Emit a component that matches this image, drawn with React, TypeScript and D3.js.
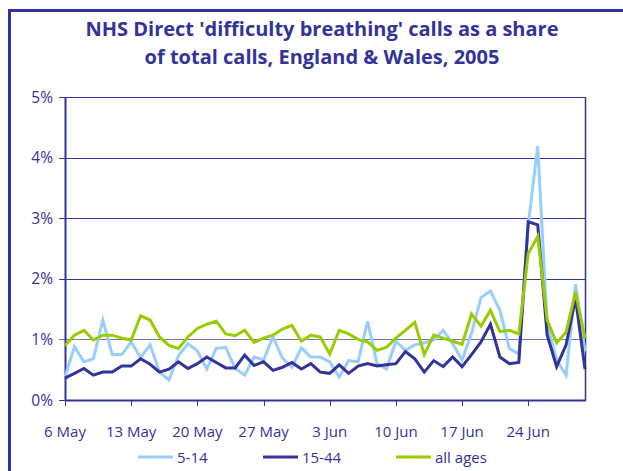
import React, { useEffect, useRef } from 'react';
import * as d3 from 'd3';

// daily values, 6 May - 30 Jun 2005 (% of total calls)
const firstDay = new Date(2005, 4, 6);
const lastDay = new Date(2005, 5, 30);

const age5to14 = [
  0.38, 0.88, 0.63, 0.68, 1.32, 0.75, 0.75, 0.96, 0.70, 0.91, 0.46, 0.33, 0.73, 0.93,
  0.81, 0.51, 0.85, 0.87, 0.52, 0.41, 0.71, 0.66, 1.04, 0.69, 0.54, 0.86, 0.71, 0.71,
  0.63, 0.38, 0.65, 0.63, 1.30, 0.60, 0.51, 0.97, 0.82, 0.91, 0.94, 0.99, 1.15, 0.93,
  0.66, 1.10, 1.69, 1.80, 1.48, 0.85, 0.76, 2.90, 4.19, 1.25, 0.66, 0.41, 1.91, 0.80,
];

const age15to44 = [
  0.36, 0.44, 0.52, 0.41, 0.46, 0.46, 0.56, 0.56, 0.68, 0.59, 0.46, 0.51, 0.63, 0.52,
  0.60, 0.71, 0.62, 0.53, 0.53, 0.74, 0.57, 0.63, 0.49, 0.54, 0.62, 0.51, 0.60, 0.46,
  0.44, 0.58, 0.44, 0.56, 0.60, 0.56, 0.58, 0.60, 0.80, 0.68, 0.46, 0.65, 0.55, 0.71,
  0.55, 0.75, 0.96, 1.25, 0.71, 0.60, 0.62, 2.94, 2.89, 1.07, 0.55, 0.91, 1.68, 0.51,
];

const allAges = [
  0.90, 1.07, 1.15, 0.99, 1.07, 1.07, 1.02, 0.99, 1.39, 1.32, 1.04, 0.90, 0.85, 1.04,
  1.18, 1.25, 1.30, 1.09, 1.06, 1.15, 0.95, 1.02, 1.07, 1.17, 1.23, 0.97, 1.07, 1.04,
  0.76, 1.15, 1.09, 1.00, 0.96, 0.82, 0.87, 1.02, 1.15, 1.28, 0.75, 1.07, 1.02, 0.97,
  0.92, 1.42, 1.22, 1.48, 1.13, 1.15, 1.09, 2.42, 2.70, 1.32, 0.94, 1.12, 1.78, 1.02,
];

const seriesNames = ['5-14', '15-44', 'all ages'];
const seriesColors = ['#99ccff', '#333399', '#99cc00'];
const yTicks = [0, 1, 2, 3, 4, 5];
const xTickLabels = ['6 May', '13 May', '20 May', '27 May', '3 Jun', '10 Jun', '17 Jun', '24 Jun'];

const navy = '#333399';
const font = "'Open Sans', 'DejaVu Sans', sans-serif";

const App = () => {
  const ref = useRef(null);

  useEffect(() => {
    const svg = d3.select(ref.current);
    svg.selectAll('*').remove();

    const left = 65, right = 585, top = 97, bottom = 400;

    const days = d3.timeDay.range(firstDay, d3.timeDay.offset(lastDay, 1));
    const x = d3.scaleTime().domain([firstDay, lastDay]).range([left, right]);
    const y = d3.scaleLinear().domain([0, 5]).range([bottom, top]);

    // outer frame
    svg.append('rect')
      .attr('x', 9.5).attr('y', 10.5)
      .attr('width', 700).attr('height', 600)
      .attr('fill', 'white')
      .attr('stroke', navy)
      .attr('stroke-width', 3);

    // title
    const title = svg.append('text')
      .attr('text-anchor', 'middle')
      .attr('fill', navy)
      .attr('font-family', font)
      .attr('font-weight', 700)
      .attr('font-size', 20);
    title.append('tspan').attr('x', 322).attr('y', 36).text("NHS Direct 'difficulty breathing' calls as a share");
    title.append('tspan').attr('x', 322).attr('y', 64).text('of total calls, England & Wales, 2005');

    // grid lines + y ticks
    svg.append('g').selectAll('line')
      .data(yTicks)
      .enter().append('line')
      .attr('x1', left - 6).attr('x2', right)
      .attr('y1', d => Math.round(y(d)) + 0.5)
      .attr('y2', d => Math.round(y(d)) + 0.5)
      .attr('stroke', d => d === 1 ? '#7777bb' : navy)
      .attr('stroke-width', 1);

    svg.append('g').selectAll('text')
      .data(yTicks)
      .enter().append('text')
      .attr('x', 53)
      .attr('y', d => y(d) + 5.5)
      .attr('text-anchor', 'end')
      .attr('fill', navy)
      .attr('font-family', font)
      .attr('font-size', 15.5)
      .text(d => d + '%');

    // plot frame
    svg.append('line')
      .attr('x1', left + 0.5).attr('x2', left + 0.5)
      .attr('y1', top).attr('y2', bottom + 1)
      .attr('stroke', navy).attr('stroke-width', 2);
    svg.append('line')
      .attr('x1', right + 0.5).attr('x2', right + 0.5)
      .attr('y1', top).attr('y2', bottom + 1)
      .attr('stroke', navy).attr('stroke-width', 1.5);
    svg.append('line')
      .attr('x1', left).attr('x2', right + 1)
      .attr('y1', bottom + 0.5).attr('y2', bottom + 0.5)
      .attr('stroke', navy).attr('stroke-width', 2);

    // x ticks, one a week
    const xTicks = days.filter((d, i) => i % 7 === 0).slice(0, xTickLabels.length);
    svg.append('g').selectAll('line')
      .data(xTicks)
      .enter().append('line')
      .attr('x1', d => Math.round(x(d)) + 0.5)
      .attr('x2', d => Math.round(x(d)) + 0.5)
      .attr('y1', bottom).attr('y2', bottom + 6)
      .attr('stroke', navy);

    svg.append('g').selectAll('text')
      .data(xTicks)
      .enter().append('text')
      .attr('x', d => x(d))
      .attr('y', 437)
      .attr('text-anchor', 'middle')
      .attr('fill', navy)
      .attr('font-family', font)
      .attr('font-size', 15)
      .text((d, i) => xTickLabels[i]);

    // series
    const allSeries = [age5to14, age15to44, allAges];
    const line = d3.line()
      .x((d, i) => x(days[i]))
      .y(d => y(d));

    svg.append('g').selectAll('path')
      .data(allSeries)
      .enter().append('path')
      .attr('fill', 'none')
      .attr('stroke', (d, i) => seriesColors[i])
      .attr('stroke-width', 3)
      .attr('stroke-linejoin', 'miter')
      .attr('d', d => line(d));

    // legend
    const legendX = [138, 263, 396];
    const legend = svg.append('g').selectAll('g')
      .data(seriesNames)
      .enter().append('g')
      .attr('transform', (d, i) => `translate(${legendX[i]}, 457)`);
    legend.append('line')
      .attr('x1', 0).attr('x2', 35)
      .attr('y1', 0).attr('y2', 0)
      .attr('stroke', (d, i) => seriesColors[i])
      .attr('stroke-width', 3);
    legend.append('text')
      .attr('x', 39)
      .attr('y', 5.5)
      .attr('fill', navy)
      .attr('font-family', font)
      .attr('font-size', 15)
      .text(d => d);
  }, []);

  return (
    <svg
      ref={ref}
      width={623}
      height={471}
      style={{ position: 'absolute', left: 0, top: 0, background: 'white' }}
    />
  );
};

export default App;
